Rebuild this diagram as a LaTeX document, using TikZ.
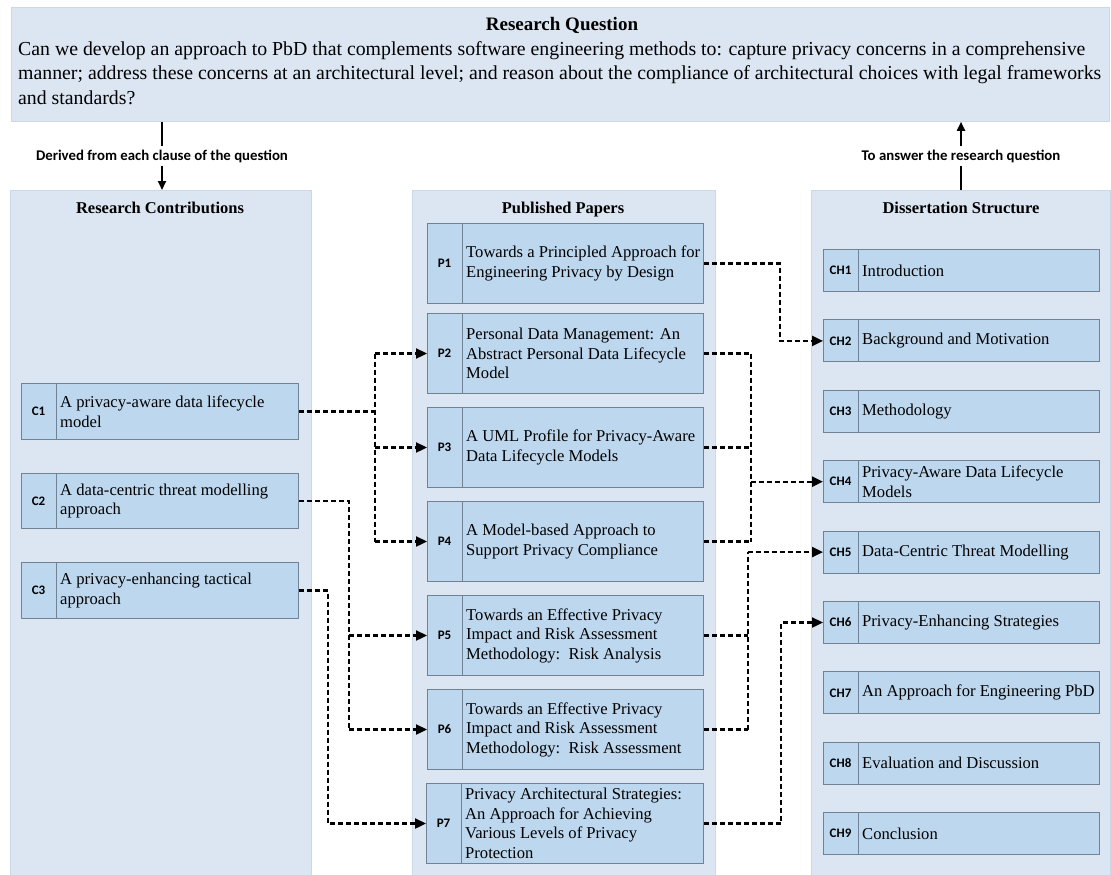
\documentclass[tikz,border=0pt]{standalone}
\usepackage{fontspec}
\setmainfont{Liberation Serif}
\newfontfamily\tagfont{Carlito}
\usetikzlibrary{arrows.meta,calc}

\definecolor{panel}{RGB}{220,230,242}
\definecolor{panelline}{RGB}{203,216,232}
\definecolor{cell}{RGB}{189,215,238}
\definecolor{cellline}{RGB}{112,130,150}

\tikzset{
  panelbox/.style={fill=panel, draw=panelline, line width=0.8pt, anchor=north west, inner sep=0pt},
  paneltitle/.style={font=\bfseries\fontsize{16.5}{19}\selectfont, inner sep=0pt, anchor=base},
  cellbox/.style={fill=cell, draw=cellline, line width=1pt, anchor=north west, inner sep=0pt},
  tagtext/.style={font=\tagfont\bfseries\fontsize{13}{15}\selectfont, inner sep=0pt},
  celltext/.style={font=\fontsize{16.6}{19.5}\selectfont, align=left, anchor=west, inner sep=0pt},
  note/.style={font=\tagfont\bfseries\fontsize{14.8}{16}\selectfont, inner sep=3pt},
  link/.style={line width=2.3pt, dash pattern=on 5pt off 3pt},
  tolink/.style={link, -{Triangle[length=11pt,width=10pt]}},
  flow/.style={line width=1.8pt},
  toflow/.style={flow, -{Triangle[length=9pt,width=8pt]}},
}

% one labelled entry: name, left x, top y, width, height, tag, text
\newcommand{\pbdcell}[7]{%
  \node[cellbox, minimum width=#4, minimum height=#5] (#1) at (#2,#3) {};
  \draw[cellline, line width=1pt] ($(#1.north west)+(35,0)$) -- ($(#1.south west)+(35,0)$);
  \node[tagtext] (#1-tag) at ($(#1.west)+(17.5,0)$) {#6};
  \node[celltext] (#1-txt) at ($(#1.west)+(39,0)$) {#7};
}

\begin{document}
\begin{tikzpicture}[x=1pt,y=-1pt]
\useasboundingbox (0,0) rectangle (1111,875);

% research question banner
\node[panelbox, minimum width=1098, minimum height=114] (Q) at (11,7) {};
\node[font=\bfseries\fontsize{19}{22}\selectfont, inner sep=0pt] (Q-title) at (562,25) {Research Question};
\node[font=\fontsize{19.8}{24.3}\selectfont, align=left, anchor=north west, inner sep=0pt] (Q-text) at (18,41.5)
  {Can we develop an approach to PbD that complements software engineering methods to: capture privacy concerns in a comprehensive\\
   manner; address these concerns at an architectural level; and reason about the compliance of architectural choices with legal frameworks\\
   and standards?};

% three columns
\node[panelbox, minimum width=301, minimum height=686] (RC) at (10,190) {};
\node[panelbox, minimum width=303, minimum height=686] (PP) at (412,190) {};
\node[panelbox, minimum width=299, minimum height=686] (DS) at (811,190) {};
\node[paneltitle] (RC-title) at (160,213) {Research Contributions};
\node[paneltitle] (PP-title) at (563,213) {Published Papers};
\node[paneltitle] (DS-title) at (961,213) {Dissertation Structure};

% contributions
\pbdcell{C1}{21}{383}{277}{56}{C1}{A privacy-aware data lifecycle\\model}
\pbdcell{C2}{21}{473}{277}{55}{C2}{A data-centric threat modelling\\approach}
\pbdcell{C3}{21}{562}{277}{56}{C3}{A privacy-enhancing tactical\\approach}

% papers
\pbdcell{P1}{427}{223}{276}{80}{P1}{Towards a Principled Approach for\\Engineering Privacy by Design}
\pbdcell{P2}{427}{313}{276}{80}{P2}{Personal Data Management: An\\Abstract Personal Data Lifecycle\\Model}
\pbdcell{P3}{427}{407}{276}{80}{P3}{A UML Profile for Privacy-Aware\\Data Lifecycle Models}
\pbdcell{P4}{427}{501}{276}{80}{P4}{A Model-based Approach to\\Support Privacy Compliance}
\pbdcell{P5}{427}{595}{276}{80}{P5}{Towards an Effective Privacy\\Impact and Risk Assessment\\Methodology:\ \ Risk Analysis}
\pbdcell{P6}{427}{689}{276}{80}{P6}{Towards an Effective Privacy\\Impact and Risk Assessment\\Methodology:\ \ Risk Assessment}
\pbdcell{P7}{426}{783}{277}{80}{P7}{Privacy Architectural Strategies:\\An Approach for Achieving\\Various Levels of Privacy\\Protection}

% chapters
\pbdcell{CH1}{823}{249}{276}{42}{CH1}{Introduction}
\pbdcell{CH2}{823}{319.4}{276}{42}{CH2}{Background and Motivation}
\pbdcell{CH3}{823}{389.8}{276}{42}{CH3}{Methodology}
\pbdcell{CH4}{823}{460.2}{276}{42}{CH4}{Privacy-Aware Data Lifecycle\\Models}
\pbdcell{CH5}{823}{530.6}{276}{42}{CH5}{Data-Centric Threat Modelling}
\pbdcell{CH6}{823}{601}{276}{42}{CH6}{Privacy-Enhancing Strategies}
\pbdcell{CH7}{823}{671.4}{276}{42}{CH7}{An Approach for Engineering PbD}
\pbdcell{CH8}{823}{741.8}{276}{42}{CH8}{Evaluation and Discussion}
\pbdcell{CH9}{823}{812.2}{276}{42}{CH9}{Conclusion}

% question to contributions, chapters back to question
\node[note] (down-note) at (162,156) {Derived from each clause of the question};
\draw[flow] (down-note.north |- Q.south) -- (down-note.north);
\draw[toflow] (down-note.south) -- (down-note.south |- RC.north);
\node[note] (up-note) at (961,156) {To answer the research question};
\draw[flow] (up-note.south |- DS.north) -- (up-note.south);
\draw[toflow] (up-note.north) -- (up-note.north |- Q.south);

% junction columns
\coordinate (c1j) at (375,0);
\coordinate (c2j) at (349,0);
\coordinate (c3j) at (328,0);
\coordinate (p1j) at (780,0);
\coordinate (p4j) at (751,0);
\coordinate (p6j) at (748,0);
\coordinate (p7j) at (781,0);

% contributions to papers
\draw[link] (C1.east) -- (C1.east -| c1j);
\draw[link] (c1j |- P2.west) -- (c1j |- P4.west);
\foreach \p in {P2,P3,P4} \draw[tolink] (c1j |- \p.west) -- (\p.west);

\draw[link] (C2.east) -- (C2.east -| c2j) -- (c2j |- P6.west);
\foreach \p in {P5,P6} \draw[tolink] (c2j |- \p.west) -- (\p.west);

\draw[tolink] (C3.east) -- (C3.east -| c3j) -- (c3j |- P7.west) -- (P7.west);

% papers to chapters
\draw[tolink] (P1.east) -- (P1.east -| p1j) -- (p1j |- CH2.west) -- (CH2.west);

\foreach \p in {P2,P3,P4} \draw[link] (\p.east) -- (\p.east -| p4j);
\draw[link] (p4j |- P2.east) -- (p4j |- P4.east);
\draw[tolink] (p4j |- CH4.west) -- (CH4.west);

\foreach \p in {P5,P6} \draw[link] (\p.east) -- (\p.east -| p6j);
\draw[link] (p6j |- P6.east) -- (p6j |- CH5.west);
\draw[tolink] (p6j |- CH5.west) -- (CH5.west);

\draw[tolink] (P7.east) -- (P7.east -| p7j) -- (p7j |- CH6.west) -- (CH6.west);
\end{tikzpicture}
\end{document}
